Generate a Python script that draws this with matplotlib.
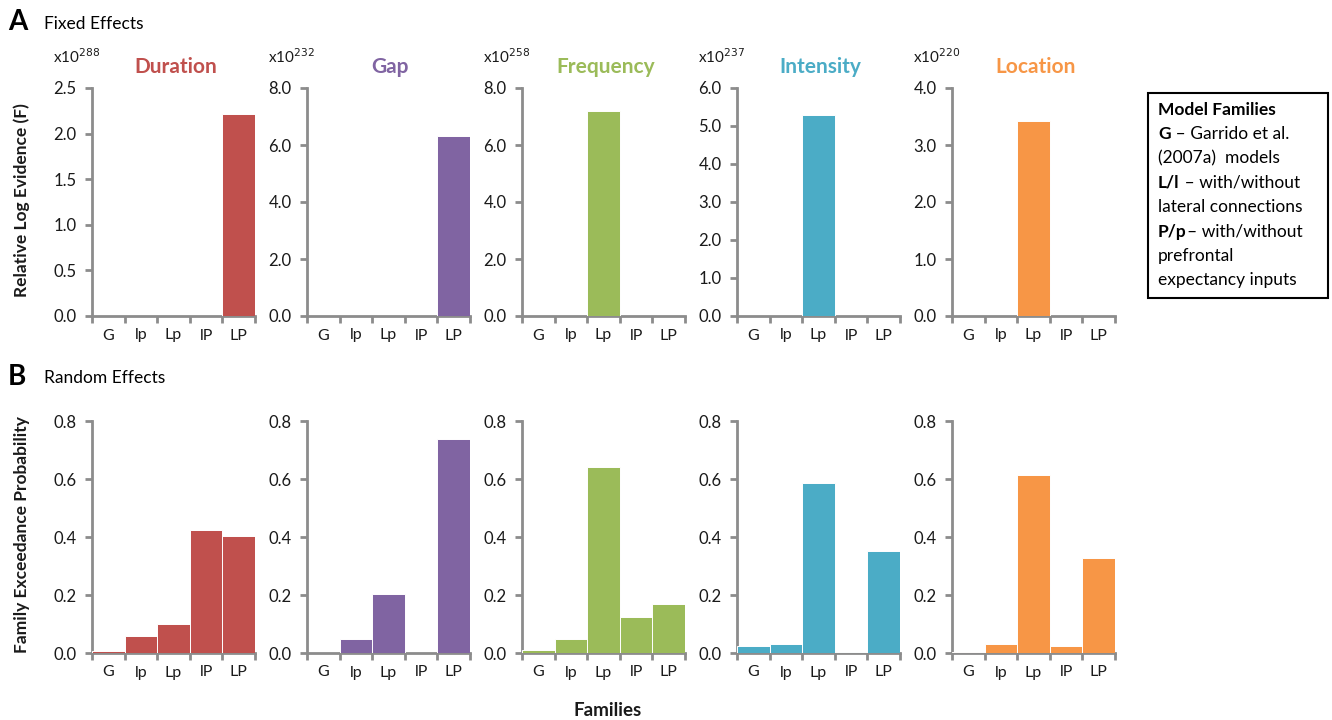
import numpy as np
import matplotlib.pyplot as plt

plt.rcParams['font.family'] = ['Lato', 'DejaVu Sans']

families = ['G', 'lp', 'Lp', 'lP', 'LP']
conditions = ['Duration', 'Gap', 'Frequency', 'Intensity', 'Location']
colors = ['#C0504D', '#8064A2', '#9BBB59', '#4BACC6', '#F79646']

# fixed effects: relative log evidence, in units of the exponent shown above each axis
exponents = [288, 232, 258, 237, 220]
fixed_ymax = [2.5, 8.0, 8.0, 6.0, 4.0]
fixed_step = [0.5, 2.0, 2.0, 1.0, 1.0]
fixed_duration = [0, 0, 0, 0, 2.22]
fixed_gap = [0, 0, 0, 0, 6.3]
fixed_frequency = [0, 0, 7.2, 0, 0]
fixed_intensity = [0, 0, 5.28, 0, 0]
fixed_location = [0, 0, 3.42, 0, 0]

# random effects: family exceedance probability
random_duration = [0.008, 0.06, 0.10, 0.425, 0.405]
random_gap = [0.0, 0.047, 0.205, 0.0, 0.737]
random_frequency = [0.012, 0.05, 0.642, 0.125, 0.17]
random_intensity = [0.025, 0.03, 0.587, 0.005, 0.352]
random_location = [0.004, 0.03, 0.613, 0.025, 0.328]

fixed = [fixed_duration, fixed_gap, fixed_frequency, fixed_intensity, fixed_location]
random = [random_duration, random_gap, random_frequency, random_intensity, random_location]

W, H = 1332, 720
fig = plt.figure(figsize=(W / 100, H / 100), dpi=100)

spine_c = '#8C8C8C'
txt_c = '#1a1a1a'


def style_axis(ax):
    for s in ['top', 'right']:
        ax.spines[s].set_visible(False)
    for s in ['left', 'bottom']:
        ax.spines[s].set_color(spine_c)
        ax.spines[s].set_linewidth(2)
        ax.spines[s].set_zorder(1)
    x = np.arange(len(families))
    ax.set_xlim(-0.5, len(families) - 0.5)
    ax.set_xticks(x)
    ax.set_xticklabels(families, fontsize=11.5, color=txt_c)
    ax.set_xticks(np.arange(len(families) + 1) - 0.5, minor=True)
    ax.tick_params(axis='x', which='major', length=0, pad=9)
    ax.tick_params(axis='x', which='minor', length=5, width=2, color=spine_c, direction='out')
    ax.tick_params(axis='y', length=5, width=2, color=spine_c, labelsize=12,
                   labelcolor=txt_c, pad=6)


def px_axes(left, top, right, bottom):
    return fig.add_axes([left / W, 1 - bottom / H, (right - left) / W, (bottom - top) / H])


lefts = [92, 307, 522, 737, 952]
width = 163
x = np.arange(len(families))

for i, name in enumerate(conditions):
    l = lefts[i]
    # top row
    ax = px_axes(l, 88, l + width, 316)
    ax.bar(x, fixed[i], width=1.0, color=colors[i], edgecolor='white', linewidth=0.7,
           zorder=3)
    ax.set_ylim(0, fixed_ymax[i])
    ax.set_yticks(np.arange(0, fixed_ymax[i] + 1e-9, fixed_step[i]))
    ax.set_yticklabels([f'{v:.1f}' for v in ax.get_yticks()])
    style_axis(ax)
    fig.text((l - 39) / W, 1 - 57 / H, r'x10$^{%d}$' % exponents[i], fontsize=11,
             color=txt_c, ha='left', va='center')
    fig.text((l + width / 2 + 2) / W, 1 - 67 / H, name, fontsize=15, fontweight='bold',
             color=colors[i], ha='center', va='center')

    # bottom row
    ax = px_axes(l, 421, l + width, 653)
    ax.bar(x, random[i], width=1.0, color=colors[i], edgecolor='white', linewidth=0.7,
           zorder=3)
    ax.set_ylim(0, 0.8)
    ax.set_yticks([0, 0.2, 0.4, 0.6, 0.8])
    ax.set_yticklabels(['0.0', '0.2', '0.4', '0.6', '0.8'])
    style_axis(ax)

fig.text(22 / W, 1 - 200 / H, 'Relative Log Evidence (F)', rotation=90, fontsize=12.5,
         fontweight='bold', ha='center', va='center', color=txt_c)
fig.text(22 / W, 1 - 535 / H, 'Family Exceedance Probability', rotation=90, fontsize=12.5,
         fontweight='bold', ha='center', va='center', color=txt_c)
fig.text(608 / W, 1 - 710 / H, 'Families', fontsize=13.5, fontweight='bold',
         ha='center', va='center', color=txt_c)

fig.text(8 / W, 1 - 22 / H, 'A', fontsize=20, fontweight='bold', ha='left', va='center')
fig.text(44 / W, 1 - 24 / H, 'Fixed Effects', fontsize=12.5, ha='left', va='center')
fig.text(8 / W, 1 - 377 / H, 'B', fontsize=20, fontweight='bold', ha='left', va='center')
fig.text(44 / W, 1 - 378 / H, 'Random Effects', fontsize=12.5, ha='left', va='center')

# legend box describing the model families
box = plt.Rectangle((1148 / W, 1 - 298 / H), 180 / W, 205 / H, transform=fig.transFigure,
                    facecolor='white', edgecolor='black', linewidth=1.5)
fig.patches.append(box)
lines = [
    ('Model Families', ''),
    ('G', ' \u2013 Garrido et al.'),
    ('', '(2007a)  models'),
    ('L/l', ' \u2013 with/without'),
    ('', 'lateral connections'),
    ('P/p', '\u2013 with/without'),
    ('', 'prefrontal'),
    ('', 'expectancy inputs'),
]
y0 = 110
for k, (bold, rest) in enumerate(lines):
    y = 1 - (y0 + k * 24.3) / H
    xpos = 1158 / W
    if bold:
        t = fig.text(xpos, y, bold, fontsize=12.5, fontweight='bold', ha='left', va='center')
        fig.canvas.draw()
        xpos = t.get_window_extent().x1 / W
    if rest:
        fig.text(xpos, y, rest, fontsize=12.5, ha='left', va='center')

fig.savefig('out.png', dpi=100)
